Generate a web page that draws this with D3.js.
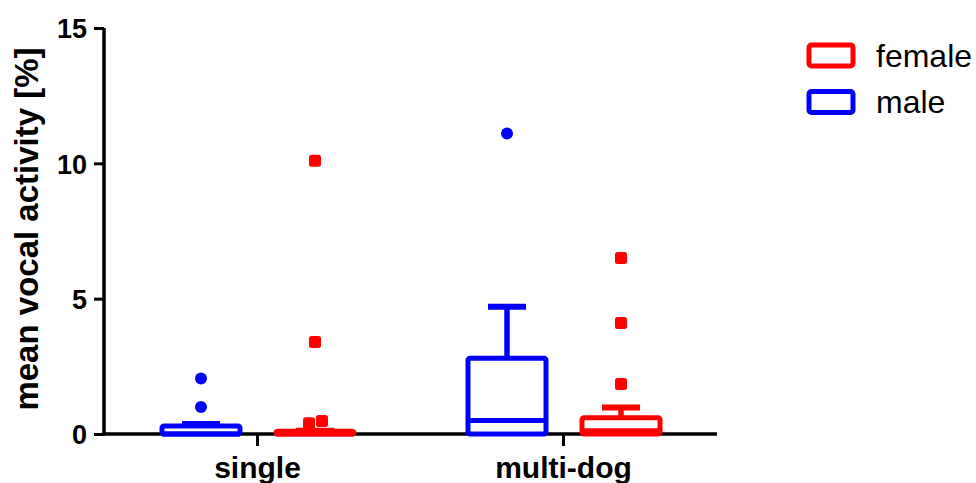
<!DOCTYPE html>
<html>
<head>
<meta charset="utf-8">
<title>mean vocal activity</title>
<script src="https://cdn.jsdelivr.net/npm/d3@7"></script>
<style>
body { margin: 0; background: #fff; }
text { font-family: "Liberation Sans", Arial, sans-serif; }
</style>
</head>
<body>
<script>
// data
var categories = ["single", "multi-dog"];
var seriesNames = ["male", "female"];
var legendOrder = ["female", "male"];
var seriesColors = ["#0000ff", "#ff0000"];

var maleQ1 = [0, 0];
var maleMedian = [0, 0.5];
var maleQ3 = [0.3, 2.8];
var maleHigh = [0.37, 4.7];
var maleOutliers = [[1.0, 2.05], [11.1]];

var femaleQ1 = [0, 0];
var femaleMedian = [0, 0.12];
var femaleQ3 = [0.1, 0.6];
var femaleHigh = [0.12, 0.98];
var femaleOutliers = [[0.4, 0.48, 3.4, 10.1], [1.85, 4.1, 6.5]];

var yTicks = [0, 5, 10, 15];

var w = 976, h = 483;
var svg = d3.select("body").append("svg")
    .attr("width", w)
    .attr("height", h);

var y = d3.scaleLinear().domain([0, 15]).range([434, 28]);
var x0 = d3.scalePoint().domain(categories).range([257, 563]);
var x1 = d3.scaleOrdinal().domain(seriesNames).range([-56, 58]);
var color = d3.scaleOrdinal().domain(seriesNames).range(seriesColors);

var stats = {
  male: { q1: maleQ1, med: maleMedian, q3: maleQ3, hi: maleHigh, out: maleOutliers },
  female: { q1: femaleQ1, med: femaleMedian, q3: femaleQ3, hi: femaleHigh, out: femaleOutliers }
};

var boxW = 78, capW = 38, sw = 5;

// axes
var yAxis = svg.append("g")
    .attr("transform", "translate(104,0)")
    .call(d3.axisLeft(y).tickValues(yTicks).tickSize(10).tickPadding(7));
yAxis.select(".domain").attr("stroke-width", 3.5).attr("d", "M0," + (y(0) + 1.5) + "V" + y(15));
yAxis.selectAll(".tick line").attr("stroke-width", 3);
yAxis.selectAll(".tick text")
    .attr("font-size", 27).attr("font-weight", "bold").attr("fill", "#000")
    .attr("dy", "0.36em");

var xAxis = svg.append("g")
    .attr("transform", "translate(0," + y(0) + ")")
    .call(d3.axisBottom(x0).tickSize(12).tickPadding(11));
xAxis.select(".domain").attr("stroke-width", 3.5).attr("d", "M102.5,0H717");
xAxis.selectAll(".tick line").attr("stroke-width", 3);
xAxis.selectAll(".tick text")
    .attr("font-size", 30).attr("font-weight", "bold").attr("fill", "#000");

svg.append("text")
    .attr("transform", "translate(38,229) rotate(-90)")
    .attr("text-anchor", "middle")
    .attr("font-size", 33)
    .attr("font-weight", "bold")
    .text("mean vocal activity [%]");

// boxes
seriesNames.forEach(function (s) {
  var st = stats[s];
  var c = color(s);
  categories.forEach(function (cat, i) {
    var cx = x0(cat) + x1(s);
    var g = svg.append("g");
    // whisker
    g.append("line")
        .attr("x1", cx).attr("x2", cx)
        .attr("y1", y(st.q3[i])).attr("y2", y(st.hi[i]))
        .attr("stroke", c).attr("stroke-width", 5.5);
    g.append("line")
        .attr("x1", cx - capW / 2).attr("x2", cx + capW / 2)
        .attr("y1", y(st.hi[i])).attr("y2", y(st.hi[i]))
        .attr("stroke", c).attr("stroke-width", 6);
    // box
    var top = y(st.q3[i]), bot = y(st.q1[i]);
    g.append("rect")
        .attr("x", cx - boxW / 2).attr("y", top)
        .attr("width", boxW).attr("height", Math.max(bot - top, 0.1))
        .attr("rx", 2)
        .attr("fill", "#fff").attr("stroke", c).attr("stroke-width", sw);
    g.append("line")
        .attr("x1", cx - boxW / 2).attr("x2", cx + boxW / 2)
        .attr("y1", y(st.med[i])).attr("y2", y(st.med[i]))
        .attr("stroke", c).attr("stroke-width", sw);

    // outliers, nudged sideways when they overlap
    var pts = st.out[i].slice().sort(d3.ascending);
    var placed = [];
    pts.forEach(function (v, k) {
      var py = y(v), dx = 0;
      if (k > 0 && Math.abs(y(pts[k - 1]) - py) < 12) {
        placed[k - 1].dx = -6;
        dx = 7;
      }
      placed.push({ v: v, dx: dx });
    });
    placed.forEach(function (p) {
      if (s === "male") {
        g.append("circle")
            .attr("cx", cx + p.dx).attr("cy", y(p.v)).attr("r", 6)
            .attr("fill", c);
      } else {
        g.append("rect")
            .attr("x", cx + p.dx - 6).attr("y", y(p.v) - 6)
            .attr("width", 12).attr("height", 12).attr("rx", 2.5)
            .attr("fill", c);
      }
    });
  });
});

// legend
var leg = svg.append("g");
legendOrder.forEach(function (s, i) {
  var ly = 55.5 + i * 46.5;
  leg.append("rect")
      .attr("x", 809).attr("y", ly - 10.5)
      .attr("width", 44).attr("height", 21).attr("rx", 2.5)
      .attr("fill", "#fff").attr("stroke", color(s)).attr("stroke-width", 5);
  leg.append("text")
      .attr("x", 876).attr("y", ly + 11)
      .attr("font-size", 32)
      .attr("fill", "#000")
      .text(s);
});
</script>
</body>
</html>
